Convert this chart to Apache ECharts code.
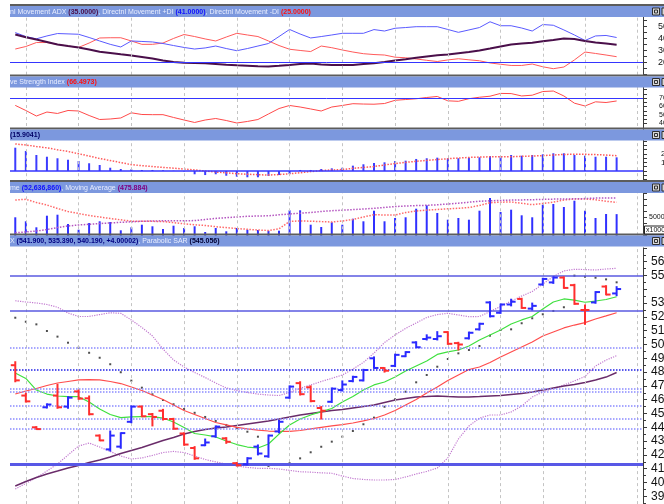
<!DOCTYPE html>
<html><head><meta charset="utf-8">
<script src="https://cdn.jsdelivr.net/npm/echarts@6/dist/echarts.min.js"></script>
<style>html,body{margin:0;padding:0;background:#fff}#c{width:664px;height:504px}</style>
</head><body><div id="c"></div>
<script>
// ---------- data ----------
const gridBars = [1,6,11,16,21,26,31,36,41,46,50,54,59];

const adx = [43.5,41.2,39.3,37.3,35.2,33.9,32.7,31,29.2,28.1,27,26,24.8,23.5,21.8,20.6,19.9,19.7,19.5,18.9,18.3,17.8,17.4,17,16.8,17.4,18.1,18.9,19.3,18.5,18.1,18.1,18.1,18.9,19.6,20.6,21.8,22.9,24.1,25.2,26.2,26.9,27.9,28.9,30.2,31.8,33.5,35.2,36,36.7,37.8,38.9,40.2,39.8,38.1,36.8,36,35];
const plusDI = [45.1,41.8,39.9,42.3,44.3,44,43.7,41,38.1,35.3,33.1,38.1,37.7,37.3,36,34.3,32.7,31.4,32.3,33.9,31.8,30,31.8,33.9,36,41.8,47.7,43.9,40.6,41.8,43.1,44.5,44.5,44.5,47.6,46.4,48.7,49.3,50,50,50,47.7,45.3,47.3,49.3,54.1,50.8,50.8,48.9,46.4,51.8,51.2,47.3,43.1,38.5,42.3,42.7,41];
const minusDI = [31.4,33.5,36.8,36.8,35.2,33.9,32.7,36.4,40.6,40.8,40.8,38.1,35.3,35.3,36.4,40.2,43.5,41.8,39.8,38.1,41.4,44.5,43.1,41.8,38.1,34.3,31.2,30.2,29.3,33.9,32.5,30.6,28.9,27.5,26.8,26.4,24.6,24.1,23.1,22,21,22.3,23.3,22.4,21.6,19.8,18.7,17.7,17.7,18.9,16.6,15,16.4,22.3,28.9,27.7,26.4,25];
const adxLevel = 20;

const rsi = [61.3,55.3,48.8,53.5,51.8,55.3,54.7,49.4,44.7,45.3,46.5,52.6,50.6,50.4,50.4,47.1,44.1,41.2,44.1,45.9,43.5,40.6,42.4,44.7,51.2,57.6,61.2,59.4,57.1,54.7,59.4,61.2,63.3,62.9,62.7,63.5,67.3,68.2,69.1,70.6,71.8,66.7,66.1,69.2,70.9,72.1,75.4,75.2,72.4,73.3,77.6,78.2,72.4,63.9,60.6,65.5,64.7,66.4973];
const rsiLevel = 70;

const momentum = [27.1,23.3,18.6,16.6,14.8,13.1,11.6,9,7,3.8,2.3,2,1.2,1.2,0.8,0.3,-0.5,-3.8,-4.7,-3.8,-5.5,-6.6,-7.3,-7.3,-5.8,-4.7,-3.5,1.2,1.2,2.3,3.1,3.8,6.2,7.8,9.3,10.1,11.6,12,14,14.8,15.5,14.8,14.8,15.5,15.9,17.4,17.4,18.6,17.8,18.6,19.4,20.6,20.6,18.6,17.8,16.6,16.6,15.9041];
const momSignal = [31.5,30.2,28.5,26.9,24.7,22.7,20.1,17.4,14.5,12.2,9.8,7.4,6.2,5.2,4.2,3.3,2.2,1.2,0,-1.2,-2.1,-3.1,-3.8,-4.3,-4.7,-4.1,-3.3,-2,-0.7,0.6,1.2,1.7,3.1,4.1,5.2,7,8.7,10,11.3,12.3,13.3,14.3,15.1,15.8,16.2,16.5,16.6,16.6,17.1,17.4,17.9,18.6,19.3,19.4,19.4,19.1,18.5,17.8];

// volume in thousands
const volume = [50000,46667,41667,51333,52167,44417,39667,45250,46667,46083,39167,41667,43833,42500,40250,43000,41083,42500,37750,41083,38333,41083,39667,39417,38833,38833,55833,55833,43833,41917,45833,43833,48833,46667,55500,46667,49417,50000,57167,60000,53583,48000,49417,48000,55500,66083,54417,56333,51667,50000,60500,61083,58583,63833,55500,49417,52750,52637];
const volAvgRed = [64417,65000,62333,60250,57333,54833,53167,51500,50250,49000,47917,46750,46667,46667,46417,45583,44583,43750,43167,42167,41417,40667,40000,39417,39000,40417,46500,47000,46750,46417,46083,46917,48167,50250,52167,51917,51917,54000,55250,56000,56500,57083,57500,58167,59833,62167,62583,62750,61667,60500,61500,62583,64417,65250,65250,64667,63333,62500];
const volAvgPurple = [37167,37750,38583,39750,41500,42750,43583,44167,44833,45250,45833,46250,46667,46917,47083,47167,47167,47250,48167,49083,49667,50250,50833,51083,51250,52083,52750,53417,54000,54833,55500,55917,56417,56917,57500,58167,58917,59417,59750,60000,60417,61083,61750,62583,63333,63750,64083,64333,64500,64667,64917,65167,65250,65417,65583,66000,66083,66083];

const open  = [485,463,440,454.5,463,455,466,461,434,424,426,444,455,449.5,452,446,435.5,425,427,433.5,432,414,413.2,426,419,437,461.5,472,469,454,458.5,467,473.5,474,490,483,484.5,491.5,501.5,504,504,509,501,504.5,511,530.5,523,529,533,526,543.5,545,548.5,543,525,530.5,542,537];
const high  = [487.5,464.7,440.5,457,471.2,462.2,467,462.7,434.5,437.3,436,455.4,455.4,450,453,446.5,436,426,431.5,441,432.5,414.5,418,427.2,434.4,445,470,473,470,455,468.5,473.6,477,482,491,483.2,493,494.8,502,507,509.3,509.3,501.6,509,515.4,531,529.3,532.8,533.5,530,548,549,549,543.6,528.6,538.3,542.6,541.9];
const low   = [473,458.3,438.5,454,453.8,453.8,460.3,449,430.3,422.8,424.8,443.3,447.7,441,445.3,438.6,427,416.8,426.7,432.8,428.4,412,412.7,420,418.3,436,461,463.4,458.5,446,458,466.3,473,473.6,482.7,480,484,491.2,497.7,503.3,503.3,500.1,496,504,510.5,520,522.6,528,526.2,525,543,544.3,540.7,529.1,514.6,529.9,536,535.39];
const close = [474,458.8,438.7,456.5,454.5,461.5,460.8,449.5,430.5,434,435.8,455,448,447.5,446,439,427.5,417.5,429,440.5,429.5,412.5,417.5,421,434,444,469.5,464,459,452,468,471,476.5,481.5,483,481,492.5,494.5,498,505,506,500.5,500,508.5,515,520.5,529,531,526.5,528,547.5,548.5,541,529.5,525,538,536.19,540.19];
const sar = [519.4,516.5,514.6,509.8,505.7,501.3,497.7,494,490.4,485.7,479.9,473.8,468.7,463.9,459.8,456.7,453.3,450.5,447.5,444.6,441.7,439.5,436.8,433.2,412,413,414,417.5,421.9,425.9,429.6,433.2,437.3,442.2,447,454.9,460.3,465.8,472.6,477.9,483.9,489.5,493.6,496,498.9,506.4,510.5,511,515.4,519,521.9,524.3,527,549.9,549.1,548.4,547.2,545.056];
const maShort = [479.3,475.4,467,464.1,462.7,462.2,462.2,458.3,453.3,449.3,447,447.6,447.7,447.7,446.7,443.8,439.9,435.5,434.4,433,430.1,427.5,425.7,425,427.9,435.1,441.7,446,448.9,451.4,453.6,458.3,462.3,467,470.7,472.8,476.5,480.8,484.4,488,492.8,494.6,496,498.9,503.3,506.9,510.5,514.9,517.8,520.3,525.7,530.8,533,532.2,530.6,531.5,532.6,534.6];
const maMid = [464.1,466.3,468.1,470.3,472.1,473.2,474.3,474.6,474.3,473.2,471.7,469.2,466.7,463.4,460.1,456.2,452.2,449.3,446.4,443.5,441.7,439.9,438.8,438,437.3,437,437,437.7,438.8,439.9,441,442,443.1,444.6,446.4,448.9,452.2,456.2,460.1,464.9,469.2,473.9,477.9,481.9,483.7,487,490.9,494.6,498.2,501.8,506.2,509.1,512,514.1,515.9,518.5,520.7,523];
const maLong = [397.5,400.7,403.6,406.2,408.3,410.5,412.3,414.5,416.3,418.5,421,423.2,425.4,427.9,430.4,432.6,435.1,437,438.4,439.5,440.2,441.3,442.4,443.5,444.6,446,447.5,448.9,450,451.1,452.2,452.9,454,455.1,456.2,458,459.8,460.9,462,462.3,462.7,462.3,462,462,462.3,462.7,463,463.8,464.5,465.6,467,468.5,469.9,471,472.5,474.3,476.4,479.7];
const bbUpper = [531.7,530.8,530.1,529,527,522.8,520.3,520.3,521.7,523,522.6,517.8,512.3,506.2,496.7,488.8,483.7,479.7,476.1,472.1,468.5,466.7,465.2,464.1,463.4,463,465.2,468.3,470.7,473.2,475.5,477.9,482.2,487,493.8,501.4,506.9,511.7,515.6,519.6,521.7,522.6,521.4,520.1,520.3,523.9,527.5,531.5,535.1,538.4,543.8,549.3,553.3,554.5,554.3,554,554.7,555.2];
const bbLower = [395.3,399.3,403.6,408.3,413.4,419.9,426.4,428.6,425.7,422.5,419.2,417,417.8,419.6,421.7,422.5,421.7,419.2,416.7,414.9,413.4,412,410.9,410.3,410.3,409.8,408.8,407.8,407.5,407,406.7,404.7,402.9,402.2,401.8,401.8,402.2,404,406.2,408,410.5,417.8,431.5,440.9,446.7,448.9,448.9,451.1,455.4,461.9,465.6,468.1,470.7,473.6,476.8,484.4,488.7,491.9];
const solidLevels = [550, 524.5];
const dottedLevels = [498, 467.8, 465.8, 455.7, 446.5, 439.3];
const darkDottedLevels = [481.7];
const supportLevel = [413.4];
const lastPrice = 540.19;

// ---------- styles ----------
const BLUE = '#2a2aff', RED = '#ff2e2e';
const GL = 10, GR = 21;
const XMIN = -0.5, XMAX = 59.5;
const font = "'Liberation Sans', Arial, sans-serif";

const pairs = a => a.map((v, i) => [i, v]);
const ohlc = open.map((o, i) => [i, o, high[i], low[i], close[i], i === 0 ? (close[i] >= o ? 1 : 0) : (close[i] >= close[i-1] ? 1 : 0)]);

const gridDefs = [
  {top: 14.7, height: 60},
  {top: 81, height: 51},
  {top: 136.6, height: 51.6},
  {top: 181.3, height: 60},
  {top: 247.9, height: 262.2}
];
const grid = gridDefs.map(g => ({left: GL, right: GR, top: g.top, height: g.height, outerBoundsMode: 'none', containLabel: false}));
const xAxis = gridDefs.map((g, i) => ({type: 'value', gridIndex: i, min: XMIN, max: XMAX, show: false,
  axisLine: {show: false, onZero: false}, axisTick: {show: false}, axisLabel: {show: false}, splitLine: {show: false}}));

function yAx(i, min, max, interval, labelFn, margin, fs, minor) {
  return {
    type: 'value', gridIndex: i, position: 'right', min, max, interval,
    axisLine: {show: true, onZero: false, lineStyle: {color: '#3a3a3a', width: 1}},
    axisTick: {show: true, length: 4, lineStyle: {color: '#3a3a3a'}},
    minorTick: minor ? {show: true, splitNumber: 2, length: 3, lineStyle: {color: '#3a3a3a'}} : {show: false},
    splitLine: {show: false},
    axisLabel: {show: true, margin, color: '#111', fontSize: fs, fontFamily: font, formatter: labelFn, hideOverlap: false}
  };
}
const yAxis = [
  yAx(0, 10, 60, 5, v => (v % 10 === 0 && v > 10 && v < 60) ? String(v) : '', 15, 9),
  yAx(1, 30, 90, 5, v => (v % 10 === 0 && v >= 40 && v <= 70) ? String(v) : '', 16, 7),
  yAx(2, -20, 40, 5, v => (v === 10 || v === 20) ? String(v) : '', 18, 8),
  yAx(3, 30000, 80000, 5000, v => v === 50000 ? '50000' : '', 6, 7),
  yAx(4, 380, 570, 10, v => (v === 540 || v === 570) ? '' : String(v), 8, 12, true)
];

function gridLines() {
  return {
    silent: true, symbol: 'none', animation: false,
    label: {show: false},
    lineStyle: {color: '#c4c4c4', type: [3, 3], width: 1},
    data: gridBars.map(b => ({xAxis: b}))
  };
}
function lineS(gi, data, color, width, type, extra) {
  return Object.assign({
    type: 'line', xAxisIndex: gi, yAxisIndex: gi, data: pairs(data),
    symbol: 'none', silent: true, animation: false, clip: true,
    lineStyle: {color, width, type: type || 'solid'}
  }, extra || {});
}
function levelLines(values, color, width, type) {
  return {
    silent: true, symbol: 'none', animation: false, label: {show: false},
    lineStyle: {color, width, type},
    data: values.map(v => ({yAxis: v}))
  };
}

function renderOHLC(params, api) {
  const i = api.value(0);
  const pO = api.coord([i, api.value(1)]);
  const pH = api.coord([i, api.value(2)]);
  const pL = api.coord([i, api.value(3)]);
  const pC = api.coord([i, api.value(4)]);
  const color = api.value(5) ? BLUE : RED;
  const st = {stroke: color, lineWidth: 2};
  return {type: 'group', children: [
    {type: 'line', shape: {x1: pH[0], y1: pH[1] - 0.5, x2: pL[0], y2: pL[1] + 0.5}, style: st},
    {type: 'line', shape: {x1: pO[0] - 4.5, y1: pO[1], x2: pO[0], y2: pO[1]}, style: st},
    {type: 'line', shape: {x1: pC[0], y1: pC[1], x2: pC[0] + 4.5, y2: pC[1]}, style: st}
  ]};
}

const series = [
  // ADX panel
  lineS(0, minusDI, '#ff5a5a', 1, 'solid', {markLine: gridLines()}),
  lineS(0, plusDI, '#5a5aff', 1),
  lineS(0, adx, '#4a0f4a', 2, 'solid', {markLine: levelLines([adxLevel], '#3535ff', 1, 'solid')}),
  // RSI panel
  lineS(1, rsi, '#ff4a4a', 1, 'solid', {markLine: gridLines()}),
  {type: 'line', xAxisIndex: 1, yAxisIndex: 1, data: [], markLine: levelLines([rsiLevel], '#3535ff', 1, 'solid')},
  // Momentum
  {type: 'bar', xAxisIndex: 2, yAxisIndex: 2, data: pairs(momentum), barWidth: 2, silent: true, animation: false,
   itemStyle: {color: '#3c3cff'}, markLine: gridLines()},
  {type: 'line', xAxisIndex: 2, yAxisIndex: 2, data: [], markLine: levelLines([0], '#3535ff', 1.5, 'solid')},
  lineS(2, momSignal, '#ff5a5a', 1.5, 'dotted'),
  // Volume
  {type: 'bar', xAxisIndex: 3, yAxisIndex: 3, data: pairs(volume), barWidth: 2, silent: true, animation: false,
   itemStyle: {color: '#3030ff'}, markLine: gridLines()},
  lineS(3, volAvgRed, '#ff6a6a', 1.5, 'dotted'),
  lineS(3, volAvgPurple, '#b455c0', 1.5, 'dotted'),
  // Price
  {type: 'line', xAxisIndex: 4, yAxisIndex: 4, data: [], markLine: gridLines()},
  {type: 'line', xAxisIndex: 4, yAxisIndex: 4, data: [], markLine: levelLines(dottedLevels, '#8a8aff', 1.5, 'dotted')},
  {type: 'line', xAxisIndex: 4, yAxisIndex: 4, data: [], markLine: levelLines(darkDottedLevels, '#2020e8', 1.5, 'dotted')},
  {type: 'line', xAxisIndex: 4, yAxisIndex: 4, data: [], markLine: levelLines(solidLevels, '#5a5ae0', 1.5, 'solid')},
  {type: 'line', xAxisIndex: 4, yAxisIndex: 4, data: [], markLine: levelLines(supportLevel, '#5858e6', 3, 'solid')},
  lineS(4, bbUpper, '#c27ad0', 1.2, 'dotted'),
  lineS(4, bbLower, '#c27ad0', 1.2, 'dotted'),
  lineS(4, maLong, '#6a2c6a', 1.5),
  lineS(4, maMid, '#ff4d4d', 1.2),
  lineS(4, maShort, '#3fe03f', 1.2),
  {type: 'scatter', xAxisIndex: 4, yAxisIndex: 4, data: pairs(sar), symbol: 'rect', symbolSize: 2,
   itemStyle: {color: '#222'}, silent: true, animation: false, clip: true},
  {type: 'custom', xAxisIndex: 4, yAxisIndex: 4, data: ohlc, renderItem: renderOHLC, clip: true,
   silent: true, animation: false, z: 5,
   encode: {x: 0, y: [1, 2, 3, 4]}},
  {type: 'line', xAxisIndex: 4, yAxisIndex: 4, data: [], z: 6,
   markLine: {silent: true, symbol: 'none', animation: false,
     lineStyle: {opacity: 0},
     label: {show: true, position: 'end', distance: 2, formatter: lastPrice.toFixed(2),
       backgroundColor: '#000', color: '#fff', fontSize: 8, fontFamily: font, padding: [1, 2, 0, 2], lineHeight: 8},
     data: [{yAxis: lastPrice}]}}
];

// ---------- headers ----------
const LIGHT = '#e9eeff';
function header(T, parts) {
  let txt = '', rich = {};
  parts.forEach((p, k) => {
    const key = 'p' + k;
    txt += '{' + key + '|' + p[0] + '}';
    rich[key] = {fill: p[1] || LIGHT, fontSize: 7, fontFamily: font, fontWeight: p[1] ? 'bold' : 'normal'};
  });
  return {type: 'group', z: 100, children: [
    {type: 'rect', shape: {x: GL, y: T, width: 664 - GL, height: 2}, style: {fill: '#5c5c5c'}, z: 100},
    {type: 'rect', shape: {x: GL, y: T + 2, width: 664 - GL, height: 11}, style: {fill: '#7c98de'}, z: 100},
    {type: 'text', style: {x: GL, y: T + 8, text: txt, rich, verticalAlign: 'middle'}, z: 101},
    {type: 'rect', shape: {x: 652.5, y: T + 4, width: 7, height: 7}, style: {fill: '#d8d8d8', stroke: '#303030', lineWidth: 1}, z: 101},
    {type: 'rect', shape: {x: 654.5, y: T + 6, width: 3, height: 3}, style: {fill: 'none', stroke: '#303030', lineWidth: 1}, z: 102},
    {type: 'rect', shape: {x: 662, y: T + 4, width: 4, height: 7}, style: {fill: '#d8d8d8', stroke: '#303030', lineWidth: 1}, z: 101}
  ]};
}
const graphic = [
  header(4, [['nl Movement ADX '], ['(35.0000)', '#4a0f4a'], [', Directnl Movement +DI '], ['(41.0000)', '#1010ff'], [', Directnl Movement -DI '], ['(25.0000)', '#ff1010']]),
  header(74.5, [['ve Strength Index '], ['(66.4973)', '#ff1010']]),
  header(127.5, [['(15.9041)', '#000066']]),
  header(180, [['me '], ['(52,636,860)', '#1010ff'], [', Moving Average '], ['(475.884)', '#800080']]),
  header(233.5, [['X '], ['(541.900, 535.390, 540.190, +4.00002)', '#000080'], [', Parabolic SAR '], ['(545.056)', '#000033']]),
  {type: 'group', z: 100, children: [
    {type: 'rect', shape: {x: 644.5, y: 226, width: 22, height: 8}, style: {fill: '#fff', stroke: '#222', lineWidth: 1}, z: 100},
    {type: 'text', style: {x: 646, y: 230.5, text: 'x1000', fill: '#111', font: '7px ' + font, verticalAlign: 'middle'}, z: 101}
  ]}
];

const chart = echarts.init(document.getElementById('c'), null, {renderer: 'canvas'});
chart.setOption({animation: false, backgroundColor: '#fff', grid, xAxis, yAxis, series, graphic});
</script></body></html>
